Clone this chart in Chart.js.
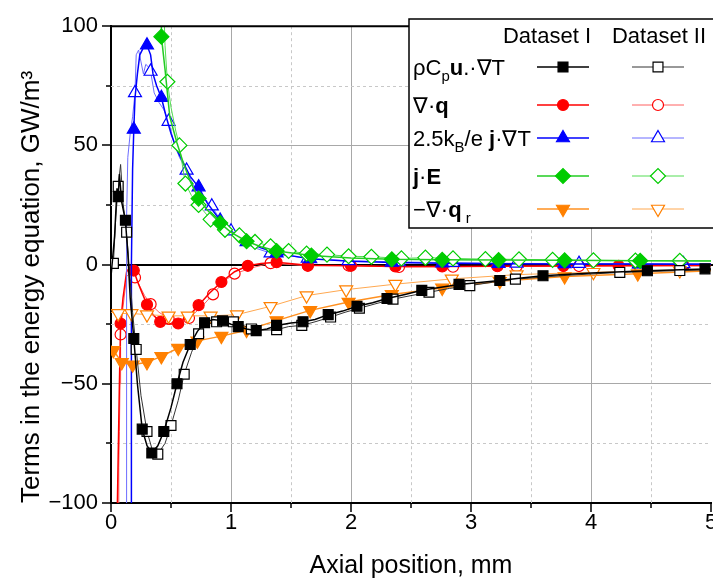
<!DOCTYPE html>
<html>
<head>
<meta charset="utf-8">
<script src="https://cdn.jsdelivr.net/npm/chart.js@4.4.1/dist/chart.umd.min.js"></script>
<style>
  html, body { margin: 0; padding: 0; overflow: hidden; background: #fff; }
</style>
</head>
<body>
<canvas id="chart" width="740" height="581"></canvas>
<script>
// [x (mm), value (GW/m3), 1 = marker drawn]
const convI = [[0,-5],[0.03,12],[0.05,32],[0.06,28.5,1],[0.07,38],[0.09,26],[0.12,18.6,1],[0.14,5],[0.16,-14],[0.19,-31,1],[0.22,-50],[0.26,-69,1],[0.3,-76],[0.34,-79,1],[0.39,-76],[0.44,-70,1],[0.5,-60],[0.55,-50,1],[0.6,-41],[0.66,-33.5,1],[0.72,-28],[0.78,-24.4,1],[0.85,-23],[0.93,-23.6,1],[1.0,-25],[1.06,-26,1],[1.13,-27],[1.21,-27.7,1],[1.3,-27],[1.38,-25.5,1],[1.5,-24.5],[1.6,-24,1],[1.7,-23],[1.81,-21,1],[1.93,-19.5],[2.05,-17.5,1],[2.18,-16],[2.3,-14.2,1],[2.45,-12.5],[2.59,-10.8,1],[2.75,-9.5],[2.9,-8.3,1],[3.07,-7.5],[3.24,-6.7,1],[3.42,-5.6],[3.6,-4.7,1],[4.0,-3.5],[4.47,-2.6,1],[4.95,-1.8,1],[5,-1.8]];
const convII = [[0.02,0.5,1],[0.04,20],[0.06,32.8,1],[0.08,42],[0.1,26],[0.13,13.6,1],[0.15,0],[0.18,-20],[0.21,-35.6,1],[0.25,-55],[0.3,-70,1],[0.34,-77],[0.39,-79.5,1],[0.45,-75],[0.5,-67.5,1],[0.56,-57],[0.61,-46,1],[0.67,-37],[0.73,-29,1],[0.8,-25],[0.88,-24,1],[0.95,-23.5],[1.02,-24,1],[1.1,-25.5],[1.17,-27,1],[1.28,-27.5],[1.38,-27.3,1],[1.48,-26],[1.59,-25.5,1],[1.7,-24],[1.83,-22,1],[1.95,-20],[2.07,-18.3,1],[2.2,-16.5],[2.35,-14.5,1],[2.5,-13],[2.65,-11.6,1],[2.82,-10],[2.99,-8.8,1],[3.18,-7.4],[3.37,-6.1,1],[3.8,-4.5],[4.24,-3.3,1],[4.74,-2.5,1],[5,-2.2]];
const condI = [[0.05,-110],[0.06,-80],[0.07,-50],[0.08,-24.7,1],[0.1,-14],[0.13,-3],[0.16,-1],[0.19,-2.5,1],[0.22,-7],[0.26,-12],[0.3,-16.8,1],[0.35,-21],[0.41,-24,1],[0.48,-25],[0.56,-24.7,1],[0.65,-21.5],[0.73,-17,1],[0.82,-12],[0.92,-7.3,1],[1.03,-3],[1.14,-0.5,1],[1.25,0.5],[1.38,1,1],[1.64,-0.3,1],[2.0,-0.5,1],[2.37,-0.8,1],[2.76,-0.8,1],[3.22,-0.7,1],[3.77,-0.6,1],[4.23,-0.5,1],[4.77,-0.4,1],[5,-0.4]];
const condII = [[0.06,-110],[0.065,-85],[0.07,-70],[0.075,-50],[0.08,-29.3,1],[0.1,-18],[0.13,-5],[0.17,-3],[0.2,-5.4,1],[0.24,-9],[0.28,-13],[0.33,-16.6,1],[0.4,-20],[0.48,-22.6,1],[0.56,-23],[0.65,-22.4,1],[0.75,-18],[0.85,-12.5,1],[0.94,-7],[1.03,-3.8,1],[1.2,-1],[1.33,0.6,1],[1.64,-0.5,1],[1.98,-0.4,1],[2.4,-1,1],[2.85,-0.9,1],[3.38,-0.7,1],[3.9,-0.6,1],[4.4,-0.5,1],[4.77,-0.5,1],[5,-0.5]];
const thermoI = [[0.17,-110],[0.17,0],[0.18,40],[0.19,56.7,1],[0.2,70],[0.22,80],[0.24,88],[0.27,91],[0.3,92,1],[0.33,88],[0.35,80],[0.38,75],[0.42,70,1],[0.46,62],[0.5,55],[0.55,48],[0.6,43],[0.66,37],[0.73,32.5,1],[0.8,26],[0.91,18.5,1],[1.0,14],[1.13,9.5,1],[1.25,7],[1.38,4.8,1],[1.66,2.4,1],[2.0,1.4],[2.34,0.9,1],[2.76,0.6,1],[3.23,0.4,1],[3.78,0.3,1],[4.4,0.2,1],[5,0.1]];
const thermoII = [[0.13,-110],[0.13,20],[0.14,45],[0.16,55],[0.18,62],[0.2,72,1],[0.21,88],[0.23,90],[0.25,85],[0.27,80],[0.29,84],[0.31,83],[0.33,81,1],[0.36,72],[0.4,68],[0.44,65],[0.48,60,1],[0.52,52],[0.57,45],[0.63,39.5,1],[0.7,32],[0.77,28],[0.84,24.5,1],[0.92,18],[1.0,14,1],[1.1,10],[1.2,7],[1.33,4.8,1],[1.64,2.6,1],[1.98,1.6,1],[2.4,1.1,1],[2.85,0.8,1],[3.38,0.5,1],[3.9,0.4,1],[4.4,0.3,1],[4.77,0.3,1],[5,0.3]];
const jouleI = [[0.42,110],[0.42,95.6,1],[0.45,82],[0.49,62],[0.55,51],[0.6,43],[0.66,35],[0.73,27.7,1],[0.8,23],[0.91,17.4,1],[1.0,13.5],[1.13,9.8,1],[1.25,7.5],[1.38,5.7,1],[1.67,3.8,1],[2.0,2.8],[2.34,2.2,1],[2.76,2,1],[3.23,1.9,1],[3.78,1.8,1],[4.41,1.6,1],[5,1.5]];
const jouleII = [[0.44,110],[0.45,92],[0.47,76.7,1],[0.5,66],[0.54,56],[0.57,50,1],[0.6,40],[0.62,34,1],[0.67,29],[0.73,25,1],[0.83,19,1],[0.95,14.6,1],[1.07,12.3,1],[1.2,9.5,1],[1.33,7.7,1],[1.48,5.7,1],[1.63,4.6,1],[1.8,4.2,1],[1.98,3.5,1],[2.17,3.3,1],[2.42,2.6,1],[2.62,2.9,1],[2.85,2.6,1],[3.12,2.3,1],[3.4,2.2,1],[3.68,2,1],[4.02,1.8,1],[4.37,1.7,1],[4.74,1.6,1],[5,1.6]];
const radI = [[0,-34],[0.02,-36,1],[0.09,-41,1],[0.18,-42,1],[0.3,-41,1],[0.42,-38.5,1],[0.56,-35,1],[0.72,-32,1],[0.92,-30,1],[1.13,-27.5,1],[1.38,-23.5,1],[1.66,-19.2,1],[1.98,-15.7,1],[2.34,-12.5,1],[2.76,-9.8,1],[3.24,-7,1],[3.78,-5,1],[4.39,-3.8,1],[5,-2.6]];
const radII = [[0,-20],[0.06,-20.5,1],[0.17,-20.5,1],[0.3,-21,1],[0.48,-21.5,1],[0.64,-21.5,1],[0.83,-21.5,1],[1.05,-21,1],[1.33,-17.5,1],[1.63,-13,1],[1.96,-10.5,1],[2.37,-8.2,1],[2.84,-6,1],[3.38,-4.2,1],[4.02,-3.2,1],[4.74,-2.5,1],[5,-2.3]];

const columnTitles = ['Dataset I', 'Dataset II'];
// legend text pieces: '' normal, 'b' bold, 'sub' subscript
const termLabels = [
  [['ρC',''],['p','sub'],['u','b'],['.·∇T','']],
  [['∇·',''],['q','b']],
  [['2.5k',''],['B','sub'],['/e ',''],['j','b'],['·∇T','']],
  [['j','b'],['·',''],['E','b']],
  [['−∇·',''],['q','b'],[' r','sub']]
];

const FONT = '"Liberation Sans", Arial, sans-serif';

// one entry per term: marker colour, line colour I, line colour II, point style, rotation, radius
const looks = [
  { color: '#000000', lineI: '#000000', lineII: '#333333', style: 'rect', rot: 0, r: 7 },
  { color: '#ff0000', lineI: '#ff0000', lineII: '#ff6060', style: 'circle', rot: 0, r: 5.5 },
  { color: '#0000ff', lineI: '#0000ff', lineII: '#6c6cff', style: 'triangle', rot: 0, r: 7.5 },
  { color: '#00cc00', lineI: '#22cc22', lineII: '#55dd55', style: 'rectRot', rot: 0, r: 7.5 },
  { color: '#ff8000', lineI: '#ff9020', lineII: '#ffa850', style: 'triangle', rot: 180, r: 7.5 }
];

function series(pts, look, filled) {
  return {
    data: pts.map(p => ({ x: p[0], y: p[1] })),
    borderColor: filled ? look.lineI : look.lineII,
    borderWidth: filled ? 1.5 : 1,
    tension: 0,
    pointStyle: look.style,
    pointRotation: look.rot,
    pointRadius: c => (pts[c.dataIndex] && pts[c.dataIndex][2]) ? look.r : 0,
    pointHoverRadius: 0,
    pointBorderWidth: 1.2,
    pointBorderColor: look.color,
    pointBackgroundColor: filled ? look.color : '#ffffff'
  };
}

const isInt = v => Math.abs(v - Math.round(v)) < 1e-9;

function drawRich(ctx, segs, x, y, size) {
  for (const [t, s] of segs) {
    const sub = s === 'sub';
    ctx.font = (s === 'b' ? 'bold ' : '') + (sub ? size * 0.68 : size) + 'px ' + FONT;
    ctx.fillText(t, x, sub ? y + size * 0.28 : y);
    x += ctx.measureText(t).width;
  }
}

const frame = {
  id: 'frame',
  beforeDatasetsDraw(chart) {
    const { ctx, chartArea: a, scales: { x, y } } = chart;
    ctx.save();
    ctx.strokeStyle = '#c8c8c8';
    ctx.lineWidth = 1;
    ctx.setLineDash([3, 3]);
    ctx.beginPath();
    x.ticks.forEach(t => {
      if (isInt(t.value)) return;
      const px = Math.round(x.getPixelForValue(t.value)) + 0.5;
      ctx.moveTo(px, a.top); ctx.lineTo(px, a.bottom);
    });
    y.ticks.forEach(t => {
      if (t.value % 50 === 0) return;
      const py = Math.round(y.getPixelForValue(t.value)) + 0.5;
      ctx.moveTo(a.left, py); ctx.lineTo(a.right, py);
    });
    ctx.stroke();
    ctx.setLineDash([]);
    ctx.strokeStyle = '#000';
    ctx.lineWidth = 2;
    const y0 = Math.round(y.getPixelForValue(0));
    ctx.beginPath(); ctx.moveTo(a.left, y0); ctx.lineTo(chart.width, y0); ctx.stroke();
    ctx.restore();
  },
  afterDraw(chart) {
    const { ctx, chartArea: a, scales: { x, y } } = chart;
    ctx.save();
    ctx.strokeStyle = '#000';
    ctx.lineWidth = 1.5;
    ctx.beginPath();
    x.ticks.forEach(t => {
      const px = Math.round(x.getPixelForValue(t.value));
      ctx.moveTo(px, a.bottom); ctx.lineTo(px, a.bottom + (isInt(t.value) ? 9 : 5));
    });
    y.ticks.forEach(t => {
      const py = Math.round(y.getPixelForValue(t.value));
      ctx.moveTo(a.left, py); ctx.lineTo(a.left - (t.value % 50 === 0 ? 9 : 5), py);
    });
    ctx.stroke();
    // top frame
    ctx.lineWidth = 2;
    ctx.beginPath(); ctx.moveTo(a.left - 1, a.top); ctx.lineTo(chart.width, a.top); ctx.stroke();

    // legend
    const bx = 409, by = 19, bh = 209;
    ctx.fillStyle = '#fff';
    ctx.fillRect(bx, by, chart.width - bx + 5, bh);
    ctx.lineWidth = 1.5;
    ctx.strokeRect(bx, by, chart.width - bx + 5, bh);
    ctx.fillStyle = '#000';
    ctx.textBaseline = 'alphabetic';
    ctx.textAlign = 'center';
    ctx.font = '22px ' + FONT;
    [547, 659].forEach((cx, i) => ctx.fillText(columnTitles[i], cx, 43));
    ctx.textAlign = 'left';
    const cols = [563, 658];
    const rows = [67, 105, 138, 176, 209];
    termLabels.forEach((segs, i) => {
      const ry = rows[i];
      ctx.fillStyle = '#000';
      drawRich(ctx, segs, 413, ry + 8, 22);
      const lk = looks[i];
      [0, 1].forEach(k => {
        const cx = cols[k];
        ctx.strokeStyle = k === 0 ? lk.lineI : lk.lineII;
        ctx.lineWidth = k === 0 ? 1.5 : 1;
        ctx.beginPath(); ctx.moveTo(cx - 26, ry); ctx.lineTo(cx + 26, ry); ctx.stroke();
        ctx.fillStyle = k === 0 ? lk.color : '#fff';
        ctx.strokeStyle = lk.color;
        ctx.lineWidth = 1.2;
        Chart.helpers.drawPoint(ctx, { pointStyle: lk.style, rotation: lk.rot, radius: lk.r, borderWidth: 1.2 }, cx, ry);
      });
    });
    ctx.restore();
  }
};

new Chart(document.getElementById('chart'), {
  type: 'line',
  data: {
    datasets: [
      series(convI, looks[0], true),
      series(convII, looks[0], false),
      series(radI, looks[4], true),
      series(radII, looks[4], false),
      series(jouleI, looks[3], true),
      series(jouleII, looks[3], false),
      series(thermoI, looks[2], true),
      series(thermoII, looks[2], false),
      series(condI, looks[1], true),
      series(condII, looks[1], false)
    ]
  },
  options: {
    responsive: false,
    animation: false,
    layout: { padding: { top: 20, right: 29, left: 0, bottom: 0 } },
    plugins: { legend: { display: false }, tooltip: { enabled: false } },
    scales: {
      x: {
        type: 'linear', min: 0, max: 5,
        afterFit: s => { s.height = 78; },
        border: { color: '#000', width: 2 },
        grid: {
          drawTicks: false,
          color: c => (isInt(c.tick.value) && c.tick.value > 0 && c.tick.value < 5) ? '#a8a8a8' : 'rgba(0,0,0,0)'
        },
        ticks: {
          stepSize: 0.5, autoSkip: false, maxRotation: 0, padding: 7, color: '#000',
          font: { family: FONT, size: 22 },
          callback: v => isInt(v) ? String(Math.round(v)) : ''
        },
        title: { display: true, text: 'Axial position, mm', color: '#000', padding: 0, font: { family: FONT, size: 25 } }
      },
      y: {
        type: 'linear', min: -100, max: 100,
        afterFit: s => { s.width = 111; },
        border: { color: '#000', width: 2 },
        grid: {
          drawTicks: false,
          color: c => Math.abs(c.tick.value) === 50 ? '#a8a8a8' : 'rgba(0,0,0,0)'
        },
        ticks: {
          stepSize: 25, autoSkip: false, padding: 13, color: '#000',
          font: { family: FONT, size: 22 },
          callback: v => v % 50 === 0 ? (v < 0 ? '−' + Math.abs(v) : String(v)) : ''
        },
        title: { display: true, text: 'Terms in the energy equation, GW/m³', align: 'start', color: '#000', padding: { top: 16, bottom: 0 }, font: { family: FONT, size: 26 } }
      }
    }
  },
  plugins: [frame]
});
</script>
</body>
</html>
